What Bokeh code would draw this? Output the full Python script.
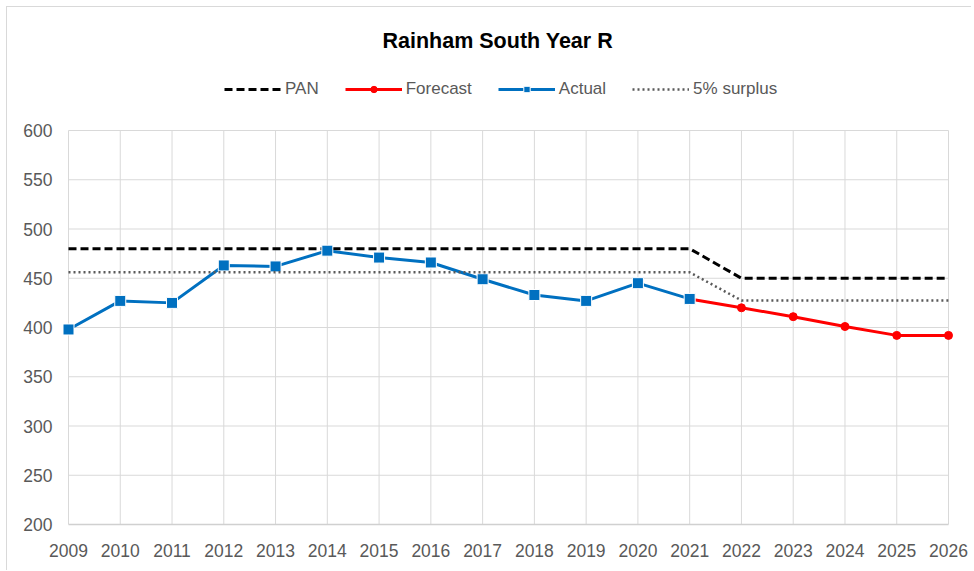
from bokeh.plotting import figure
from bokeh.models import Range1d, FixedTicker, Legend, LegendItem
from bokeh.embed import file_html
from bokeh.resources import INLINE

# ---- data ----
years = list(range(2009, 2027))
pan = [480] * 13 + [450] * 5
surplus = [456] * 13 + [427.5] * 5
actual_years = list(range(2009, 2022))
actual = [398, 427, 425, 463, 462, 478, 471, 466, 449, 433, 427, 445, 429]
forecast_years = list(range(2021, 2027))
forecast = [429, 420, 411, 401, 392, 392]
y_ticks = [200, 250, 300, 350, 400, 450, 500, 550, 600]
title_text = "Rainham South Year R"

FONT = "'Liberation Sans', Arial, sans-serif"
GRID = "#d9d9d9"
TXT = "#595959"

# ---- geometry (pixels) ----
W, H = 965, 564
PAD = 8                              # room so end markers are not clipped
BL, BR, BT, BB = 53, 16, 53, 47
frame_w = W - BL - BR
frame_h = H - BT - BB
data_w_px = frame_w - 2 * PAD
grid_h_px = 394                     # pixel height of the 200..600 band
y_lo, y_hi = y_ticks[0], y_ticks[-1]
y_top = y_lo + frame_h * (y_hi - y_lo) / grid_h_px   # room above 600 for the legend
x_pad = PAD * (years[-1] - years[0]) / data_w_px

p = figure(width=W, height=H, output_backend="svg", toolbar_location=None,
           x_range=Range1d(years[0] - x_pad, years[-1] + x_pad), y_range=Range1d(y_lo, y_top),
           min_border_left=BL, min_border_right=BR, min_border_top=BT, min_border_bottom=BB,
           title=title_text)
p.styles = {"border-top": "1px solid #d9d9d9", "border-left": "1px solid #d9d9d9",
            "margin-left": "6px", "margin-top": "6px"}

p.title.align = "left"
p.title.offset = 322
p.title.text_font = FONT
p.title.text_font_size = "21.5px"
p.title.text_font_style = "bold"
p.title.text_color = "#000000"
p.title.standoff = 16

p.outline_line_color = None
p.background_fill_color = "white"
p.border_fill_color = "white"

p.xaxis.ticker = FixedTicker(ticks=years)
p.yaxis.ticker = FixedTicker(ticks=y_ticks)
for ax in (p.xaxis[0], p.yaxis[0]):
    ax.major_tick_line_color = None
    ax.minor_tick_line_color = None
    ax.major_tick_out = 0
    ax.major_tick_in = 0
    ax.major_label_text_font = FONT
    ax.major_label_text_font_size = "17.5px"
    ax.major_label_text_color = TXT
p.xaxis.axis_line_color = "#d0d0d0"
p.xaxis.axis_line_width = 1.5
p.xaxis.bounds = (years[0], years[-1])
p.yaxis.axis_line_color = None
p.xaxis.major_label_standoff = 19
p.yaxis.major_label_standoff = 16 - PAD

p.xgrid.grid_line_color = None
p.ygrid.grid_line_color = None

# grid lines limited to the 2009..2026 x 200..600 band
p.segment(x0=years, y0=[y_lo] * len(years), x1=years, y1=[y_hi] * len(years),
          line_color=GRID, line_width=1)
p.segment(x0=[years[0]] * len(y_ticks), y0=y_ticks, x1=[years[-1]] * len(y_ticks), y1=y_ticks,
          line_color=GRID, line_width=1)

pan_r = p.line(years, pan, line_color="#000000", line_width=3, line_dash="8 4")
fc_line = p.line(forecast_years, forecast, line_color="#FF0000", line_width=3)
fc_pts = p.scatter(forecast_years, forecast, marker="circle", size=8,
                   fill_color="#FF0000", line_color="#FF0000")
act_line = p.line(actual_years, actual, line_color="#0070C0", line_width=3)
act_pts = p.scatter(actual_years, actual, marker="square", size=11,
                    fill_color="#0070C0", line_color="white", line_width=1)
sur_r = p.line(years, surplus, line_color="#595959", line_width=2.5, line_dash="2 3")

legend = Legend(items=[
    LegendItem(label="PAN", renderers=[pan_r]),
    LegendItem(label="Forecast", renderers=[fc_line, fc_pts]),
    LegendItem(label="Actual", renderers=[act_line, act_pts]),
    LegendItem(label="5% surplus", renderers=[sur_r]),
], orientation="horizontal", location=(164, 425))
legend.glyph_width = 57
legend.glyph_height = 16
legend.label_height = 16
legend.label_standoff = 4
legend.spacing = 26
legend.padding = 0
legend.margin = 0
legend.border_line_alpha = 0
legend.background_fill_alpha = 0
legend.label_text_font = FONT
legend.label_text_font_size = "17px"
legend.label_text_color = TXT
p.add_layout(legend, "center")

open("out.html", "w").write(file_html(p, INLINE))
